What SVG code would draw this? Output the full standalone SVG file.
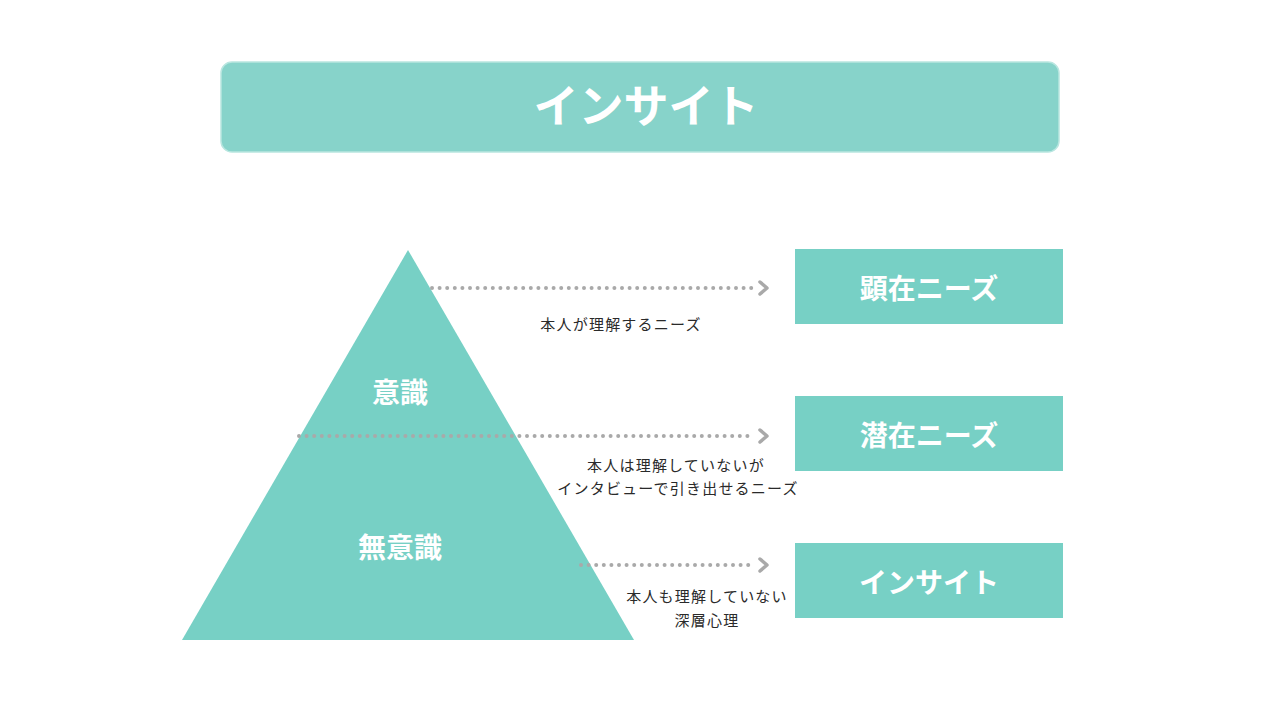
<svg xmlns="http://www.w3.org/2000/svg" width="1280" height="720" viewBox="0 0 1280 720">
<defs>
<style>
.box{fill:#77d0c5}
.lbl{font-family:"Noto Sans CJK JP",sans-serif;font-weight:700;fill:#ffffff;text-anchor:middle}
.cap{font-family:"Noto Sans CJK JP",sans-serif;font-weight:400;font-size:15px;letter-spacing:1.2px;fill:#2a2a2a;text-anchor:middle}
.dot{stroke:#a9a9a9;stroke-width:4;stroke-linecap:round;stroke-dasharray:0 7.6;fill:none}
.chev{stroke:#a9a9a9;stroke-width:3.5;fill:none;stroke-linecap:round;stroke-linejoin:round}
</style>
</defs>
<rect width="1280" height="720" fill="#ffffff"/>
<g id="title">
<rect x="221" y="62" width="838" height="90" rx="11" fill="#87d3ca" stroke="#b9e6e0" stroke-width="1.5"/>
<text class="lbl" x="646" y="123" font-size="45">インサイト</text>
</g>
<g id="pyramid">
<polygon points="408,250 634,640 182,640" fill="#77d0c5"/>
<text class="lbl" x="400" y="403" font-size="28">意識</text>
<text class="lbl" x="400" y="558" font-size="28">無意識</text>
</g>
<g id="box-kenzai">
<rect class="box" x="795" y="249" width="268" height="75"/>
<text class="lbl" x="929" y="299" font-size="28">顕在ニーズ</text>
</g>
<g id="box-senzai">
<rect class="box" x="795" y="396" width="268" height="75"/>
<text class="lbl" x="929" y="446" font-size="28">潜在ニーズ</text>
</g>
<g id="box-insight">
<rect class="box" x="795" y="543" width="268" height="75"/>
<text class="lbl" x="929" y="593" font-size="28">インサイト</text>
</g>
<g id="connectors">
<line class="dot" x1="432" y1="288" x2="755" y2="288"/>
<polyline class="chev" points="760,282 767,288 760,294"/>
<line class="dot" x1="299" y1="436" x2="755" y2="436"/>
<polyline class="chev" points="760,430 767,436 760,442"/>
<line class="dot" x1="581" y1="565" x2="755" y2="565"/>
<polyline class="chev" points="760,559 767,565 760,571"/>
</g>
<g id="captions">
<text class="cap" x="621" y="330">本人が理解するニーズ</text>
<text class="cap" x="676" y="471">本人は理解していないが</text>
<text class="cap" x="678" y="494">インタビューで引き出せるニーズ</text>
<text class="cap" x="707" y="602">本人も理解していない</text>
<text class="cap" x="707" y="626">深層心理</text>
</g>
</svg>
